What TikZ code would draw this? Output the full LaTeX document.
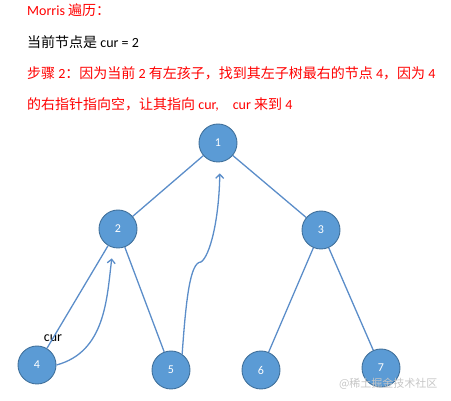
\documentclass[tikz,border=0pt]{standalone}
\usepackage{fontspec}
\setmainfont{Carlito}
\newfontfamily\cjk{Noto Sans CJK SC}
\usetikzlibrary{positioning, arrows.meta}
\definecolor{nodefill}{RGB}{91,155,213}
\definecolor{nodeline}{RGB}{65,113,156}
\definecolor{treeline}{RGB}{91,141,201}
\definecolor{notered}{RGB}{255,0,0}

\tikzset{
  treenode/.style={circle, draw=nodeline, fill=nodefill, line width=0.9pt, minimum size=38pt, inner sep=0pt, text=white, font=\fontsize{12}{14}\selectfont},
  textline/.style={anchor=west, inner sep=0pt, font=\fontsize{14}{17}\selectfont},
  branch/.style={draw=treeline, line width=1.3pt},
  threadarrow/.style={branch, ->, shorten >=10pt}
}

\begin{document}
\begin{tikzpicture}[x=1pt, y=-1pt, >={Straight Barb[length=4pt,width=8pt]}, on grid]
  \useasboundingbox (0,0) rectangle (451,401);

  % explanation text
  \node[textline, text=notered] (title) at (27,10) {Morris {\cjk 遍历：}};
  \node[textline, text=black] (state) at (27,42) {{\cjk 当前节点是} cur = 2};
  \node[textline, text=notered] (step) at (27,73) {{\cjk 步骤} 2{\cjk ：因为当前} 2 {\cjk 有左孩子，找到其左子树最右的节点} 4{\cjk ，因为} 4};
  \node[textline, text=notered] (stepcont) at (27,104) {{\cjk 的右指针指向空，让其指向} cur,\quad cur {\cjk 来到} 4};

  % tree
  \node[treenode] (n1) at (218,143) {1};
  \node[treenode] (n2) [below left=86pt and 100pt of n1] {2};
  \node[treenode] (n3) [below right=87pt and 103pt of n1] {3};
  \node[treenode] (n4) [below left=136pt and 81pt of n2] {4};
  \node[treenode] (n5) [below right=141pt and 53pt of n2] {5};
  \node[treenode] (n6) [below left=140pt and 60pt of n3] {6};
  \node[treenode] (n7) [below right=138pt and 60pt of n3] {7};

  \node[font=\fontsize{14}{17}\selectfont, inner sep=0pt] (cur) [above right=27pt and 16pt of n4] {cur};

  \draw[branch] (n1) -- (n2);
  \draw[branch] (n1) -- (n3);
  \draw[branch] (n2) -- (n4);
  \draw[branch] (n2) -- (n5);
  \draw[branch] (n3) -- (n6);
  \draw[branch] (n3) -- (n7);

  % threads
  \draw[threadarrow] (n4.east) to[out=15, in=-97] ([xshift=-5pt]n2.south);
  \coordinate (kink) at (201,262);
  \draw[threadarrow, shorten >=11pt] (n5.55) .. controls (186,300) and (190,262) .. (kink)
    .. controls (210,256) and (219,220) .. ([xshift=2pt]n1.south);

  \node[anchor=east, text=gray!45, font=\cjk\fontsize{11}{13}\selectfont] (mark) at (441,384) {@稀土掘金技术社区};
\end{tikzpicture}
\end{document}
